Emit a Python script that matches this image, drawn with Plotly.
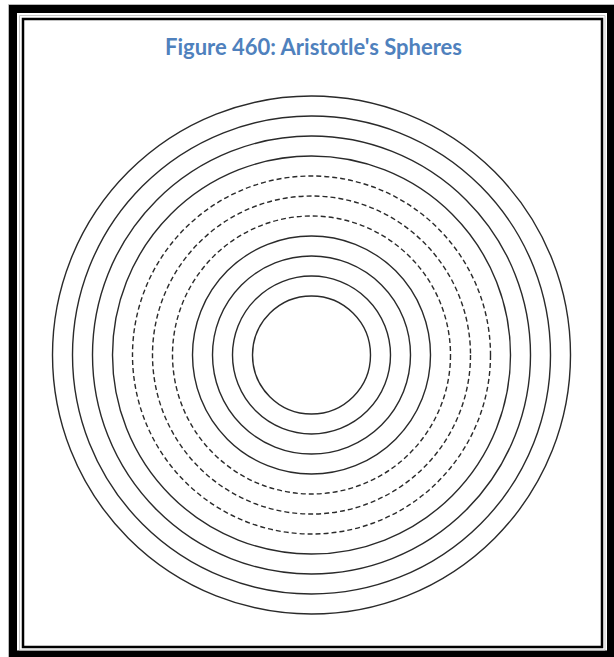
import plotly.graph_objects as go

# ---- data ----
sphere_radii = [259, 239, 219, 199, 179, 159, 139, 119, 99, 79, 59]
sphere_dashed = [False, False, False, False, True, True, True, False, False, False, False]
title_text = "Figure 460: Aristotle's Spheres"

W, H = 614, 657
CX, CY = 311.5, 355  # pixel location of common centre

fig = go.Figure()
fig.add_trace(go.Scatter(x=[0], y=[0], mode="markers", marker=dict(opacity=0), hoverinfo="skip", showlegend=False))

shapes = []
for r, d in zip(sphere_radii, sphere_dashed):
    shapes.append(dict(type="circle", xref="x", yref="y", x0=-r, x1=r, y0=-r, y1=r,
                       line=dict(color="#2a2a2a", width=1.4, dash="5px,3px" if d else "solid"),
                       layer="above"))

def px_rect(x0, y0, x1, y1, color, width):
    return dict(type="rect", xref="paper", yref="paper",
                x0=x0 / W, x1=x1 / W, y0=1 - y0 / H, y1=1 - y1 / H,
                line=dict(color=color, width=width), fillcolor="rgba(0,0,0,0)", layer="above")

# frame: faint outer edge, thick black, faint gray inner, thin black
shapes.append(px_rect(8.5, 4.5, 620, 665, "#b8b8b8", 1))
shapes.append(px_rect(13, 9, 611, 654.5, "#000000", 8))
shapes.append(px_rect(19.5, 15.5, 605, 650, "#c8c8c8", 1))
shapes.append(px_rect(23, 19, 602, 647, "#000000", 2.5))

fig.update_layout(
    width=W, height=H, autosize=False,
    margin=dict(l=0, r=0, t=0, b=0),
    paper_bgcolor="white", plot_bgcolor="white",
    xaxis=dict(range=[-CX, W - CX], visible=False, fixedrange=True),
    yaxis=dict(range=[-(H - CY), CY], visible=False, fixedrange=True),
    shapes=shapes,
    showlegend=False,
    annotations=[dict(text="<b>" + title_text + "</b>", xref="paper", yref="paper",
                      x=313 / W, y=1 - 46 / H, xanchor="center", yanchor="middle",
                      showarrow=False, font=dict(family="Lato", size=22, color="#4f81bd"))],
)

fig.write_html("out.html", config={"displayModeBar": False},
               post_script="document.body.style.margin='0';document.body.style.overflow='hidden';")
